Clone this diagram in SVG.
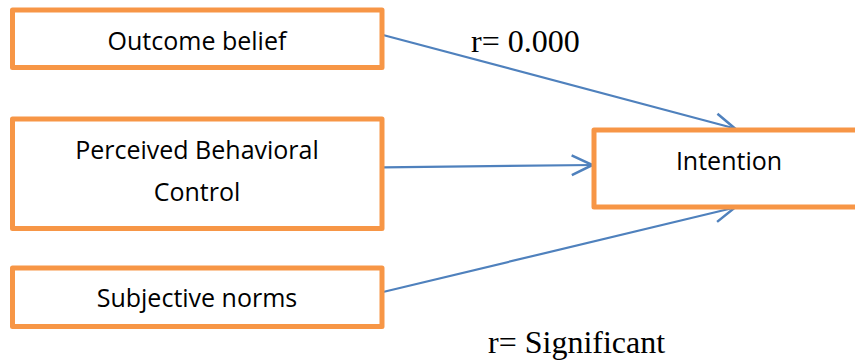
<svg xmlns="http://www.w3.org/2000/svg" width="855" height="363" viewBox="0 0 855 363">
  <style>
    .box { fill: #ffffff; stroke: #F79646; stroke-width: 5; stroke-linejoin: round; }
    .label { font-family: "Open Sans", "Liberation Sans", sans-serif; font-size: 25px; fill: #000000; text-anchor: middle; }
    .coef { font-family: "Liberation Serif", "Times New Roman", serif; font-size: 32px; fill: #000000; }
    .link { fill: none; stroke: #4F81BD; stroke-width: 2.2; marker-end: url(#open-arrow); }
  </style>
  <defs>
    <marker id="open-arrow" markerUnits="userSpaceOnUse" markerWidth="30" markerHeight="30" viewBox="-22 -12 26 24" refX="0" refY="0" orient="auto">
      <path d="M-18,-8.5 L0,0 L-18,8.5" fill="none" stroke="#4F81BD" stroke-width="2.2" stroke-linejoin="miter"/>
    </marker>
  </defs>

  <rect width="855" height="363" fill="#ffffff"/>

  <!-- connectors -->
  <g id="connectors">
    <line class="link" x1="383" y1="35" x2="735" y2="128.5"/>
    <line class="link" x1="383" y1="167.3" x2="592.5" y2="165"/>
    <line class="link" x1="383" y1="292" x2="735" y2="207.5"/>
  </g>

  <!-- nodes -->
  <g id="outcome-belief">
    <rect class="box" x="12.5" y="10" width="369.5" height="57.5"/>
    <text class="label" x="197" y="50">Outcome belief</text>
  </g>

  <g id="perceived-behavioral-control">
    <rect class="box" x="12.5" y="119" width="369.5" height="109.5"/>
    <text class="label" x="197" y="159">Perceived Behavioral</text>
    <text class="label" x="197" y="200.5">Control</text>
  </g>

  <g id="subjective-norms">
    <rect class="box" x="12.5" y="268" width="369.5" height="58.5"/>
    <text class="label" x="197" y="306.5">Subjective norms</text>
  </g>

  <g id="intention">
    <rect class="box" x="594" y="130" width="300" height="77"/>
    <text class="label" x="729" y="170">Intention</text>
  </g>

  <!-- coefficient labels -->
  <text class="coef" x="471" y="51.5">r= 0.000</text>
  <text class="coef" x="488" y="352.5">r= Significant</text>
</svg>
